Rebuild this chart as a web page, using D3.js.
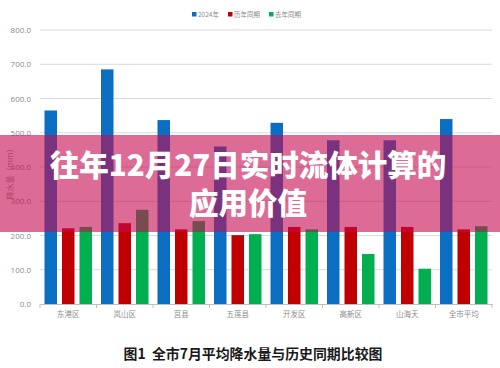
<!DOCTYPE html>
<html><head><meta charset="utf-8">
<script src="https://cdn.jsdelivr.net/npm/d3@7"></script>
<style>
html,body{margin:0;padding:0;background:#fff;}
svg{display:block;}
</style></head>
<body>
<svg id="c" width="500" height="368"></svg>
<script>
const categories = ["东港区","岚山区","莒县","五莲县","开发区","高新区","山海天","全市平均"];
const seriesNames = ["2024年","历年同期","去年同期"];
const values2024 = [565, 685, 537, 460, 529, 478, 478, 540];
const valuesHist = [221, 236, 218, 201, 225, 225, 225, 218];
const valuesLast = [225, 275, 242, 204, 218, 146, 103, 227];
const yTicks = [0,100,200,300,400,500,600,700,800];
const colors = ["#0a6fc2","#c00000","#00b050"];
const titleLines = ["往年12月27日实时流体计算的","应用价值"];
const caption = "图1  全市7月平均降水量与历史同期比较图";
const yLabel = "降水量（mm）";

(function(){
const seriesData = [values2024, valuesHist, valuesLast];
const svg = d3.select("#c");
const mLeft = 40, mRight = 492, mTop = 30, mBottom = 304;

const x0 = d3.scaleBand().domain(categories).range([mLeft, mRight]).paddingInner(0).paddingOuter(0);
const x1 = d3.scaleBand().domain(seriesNames).range([0, x0.bandwidth()]).paddingInner(0.286).paddingOuter(0.257);
const y = d3.scaleLinear().domain([0, 800]).range([mBottom, mTop]);

svg.append("g").selectAll("line").data(yTicks.filter(d=>d>0)).join("line")
  .attr("x1", mLeft).attr("x2", mRight)
  .attr("y1", d=>y(d)).attr("y2", d=>y(d))
  .attr("stroke", "#d9d9d9").attr("stroke-width", 1);

const yAxis = d3.axisLeft(y).tickValues(yTicks).tickFormat(d=>d3.format(".1f")(d)).tickSize(0).tickPadding(9);
const ya = svg.append("g").attr("transform", `translate(${mLeft},0)`).call(yAxis);
ya.select(".domain").remove();
ya.selectAll("text").attr("fill","#8c8c8c").style("font-family","'Open Sans', 'DejaVu Sans', sans-serif").style("font-size","8px");

const groups = svg.append("g").selectAll("g").data(categories).join("g")
  .attr("transform", d=>`translate(${x0(d)},0)`);
groups.selectAll("rect").data((d,i)=>seriesNames.map((s,j)=>({s, v: seriesData[j][i], j})))
  .join("rect")
  .attr("x", d=>x1(d.s)).attr("width", x1.bandwidth())
  .attr("y", d=>y(d.v)).attr("height", d=>mBottom - y(d.v))
  .attr("fill", d=>colors[d.j]);

const xAxis = d3.axisBottom(x0).tickSize(0).tickPadding(8);
const xa = svg.append("g").attr("transform", `translate(0,${mBottom})`).call(xAxis);
xa.select(".domain").attr("stroke","#bfbfbf");
xa.selectAll("text").attr("fill","#8c8c8c").style("font-family","'Noto Sans CJK SC', sans-serif").style("font-size","7.5px");
svg.append("g").selectAll("line").data(d3.range(categories.length+1)).join("line")
  .attr("x1", i=> mLeft + i*x0.step()).attr("x2", i=> mLeft + i*x0.step())
  .attr("y1", mBottom).attr("y2", mBottom+4).attr("stroke","#bfbfbf");

svg.append("text").attr("transform","translate(13,172) rotate(-90)")
  .attr("text-anchor","middle").attr("fill","#9a9a9a")
  .style("font-family","'Noto Sans CJK SC', sans-serif").style("font-size","8px")
  .text(yLabel);

const legX = [192, 228, 269];
const leg = svg.append("g");
seriesNames.forEach((s,i)=>{
  leg.append("rect").attr("x", legX[i]).attr("y", 12).attr("width",4.5).attr("height",4.5).attr("fill", colors[i]);
  leg.append("text").attr("x", legX[i]+6).attr("y", 17).attr("fill","#8c8c8c")
    .style("font-family","'Noto Sans CJK SC', sans-serif").style("font-size","6.5px").text(s);
});

svg.append("rect").attr("x",0).attr("y",135).attr("width",500).attr("height",97)
  .attr("fill","rgb(196,10,80)").attr("fill-opacity",0.6);

titleLines.forEach((t,i)=>{
  svg.append("text").attr("x",248).attr("y", 176 + i*38).attr("text-anchor","middle")
    .attr("fill","#fff")
    .style("font-family","'Noto Sans CJK SC', sans-serif").style("font-weight","900").style("font-size","29.5px")
    .text(t);
});

svg.append("text").attr("x",253).attr("y",359).attr("text-anchor","middle").attr("fill","#1a1a1a")
  .style("font-family","'Noto Sans CJK SC', serif").style("font-weight","700").style("font-size","13.9px")
  .style("white-space","pre").text(caption);
})();
</script>
</body></html>
